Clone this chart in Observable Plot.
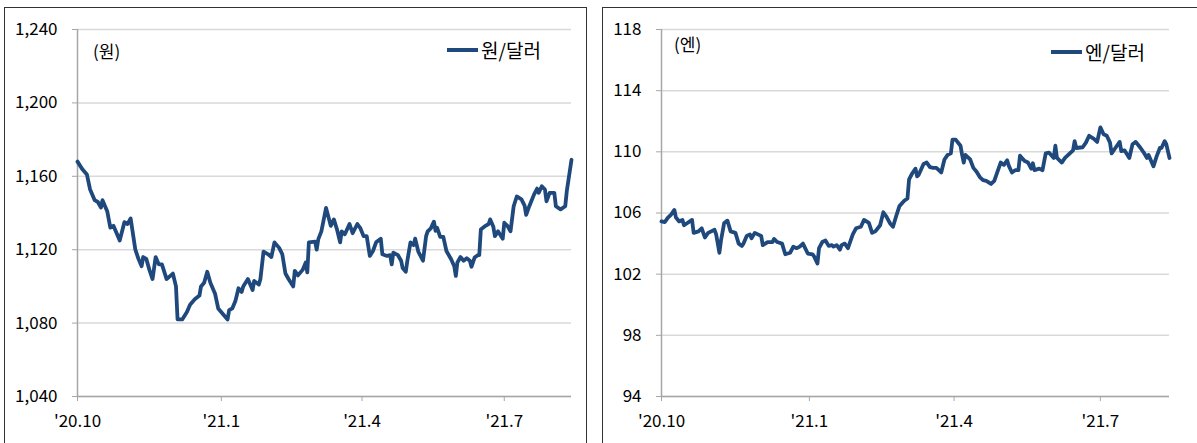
<!DOCTYPE html>
<html>
<head>
<meta charset="utf-8">
<script src="https://cdn.jsdelivr.net/npm/d3@7"></script>
<script src="https://cdn.jsdelivr.net/npm/@observablehq/plot@0.6"></script>
<style>
  html, body { margin: 0; padding: 0; background: #fff; }
  body { width: 1197px; height: 443px; position: relative; overflow: hidden; font-family: "Noto Sans CJK KR", "Noto Sans", sans-serif; color: #000; }
  .panel { position: absolute; border: 1.5px solid #333; box-sizing: border-box; }
  .chart { position: absolute; top: 0; }
  .unit { position: absolute; font-size: 17px; line-height: 20px; color: #000; }
  .legend { position: absolute; font-size: 19px; line-height: 22px; color: #000; display: flex; align-items: center; }
  .legend .swatch { display: inline-block; width: 31px; height: 4px; background: #1f497d; margin-right: 3px; }
</style>
</head>
<body>
<div class="panel" style="left:4px; top:7px; width:583px; height:470px;"></div>
<div class="panel" style="left:602px; top:7px; width:610px; height:470px;"></div>
<div id="left" class="chart" style="left:0px;"></div>
<div id="right" class="chart" style="left:595px;"></div>
<div class="unit" style="left:93px; top:41px;">(원)</div>
<div class="unit" style="left:674px; top:34px;">(엔)</div>
<div class="legend" style="left:447px; top:39px;"><span class="swatch"></span>원/달러</div>
<div class="legend" style="left:1051px; top:41px;"><span class="swatch"></span>엔/달러</div>
<script>
// X-axis ticks (quarters)
const xTickDates = ["2020-10-01", "2021-01-01", "2021-04-01", "2021-07-01"];
const xTickLabels = ["'20.10", "'21.1", "'21.4", "'21.7"];
const xStart = "2020-10-01";
const xEnd = "2021-08-13";

// Left: KRW per USD
const wonTicks = [1040, 1080, 1120, 1160, 1200, 1240];
const wonDates = [
 "2020-10-01","2020-10-04","2020-10-07","2020-10-09","2020-10-12","2020-10-14","2020-10-16","2020-10-17",
 "2020-10-20","2020-10-22","2020-10-24","2020-10-28","2020-10-31","2020-11-02","2020-11-04","2020-11-07",
 "2020-11-09","2020-11-11","2020-11-12","2020-11-14","2020-11-16","2020-11-18","2020-11-20","2020-11-22",
 "2020-11-24","2020-11-27","2020-12-01","2020-12-03","2020-12-04","2020-12-07","2020-12-10","2020-12-12",
 "2020-12-15","2020-12-18","2020-12-19","2020-12-21","2020-12-23","2020-12-25","2020-12-28","2020-12-30",
 "2021-01-02","2021-01-05","2021-01-06","2021-01-08","2021-01-10","2021-01-12","2021-01-14","2021-01-15",
 "2021-01-18","2021-01-21","2021-01-22","2021-01-25","2021-01-26","2021-01-28","2021-01-31","2021-02-02",
 "2021-02-04","2021-02-07","2021-02-09","2021-02-11","2021-02-13","2021-02-16","2021-02-17","2021-02-19",
 "2021-02-22","2021-02-24","2021-02-25","2021-02-26","2021-03-02","2021-03-03","2021-03-04","2021-03-06",
 "2021-03-09","2021-03-12","2021-03-14","2021-03-16","2021-03-18","2021-03-19","2021-03-21","2021-03-24",
 "2021-03-26","2021-03-29","2021-03-31","2021-04-02","2021-04-04","2021-04-06","2021-04-08","2021-04-10",
 "2021-04-13","2021-04-14","2021-04-17","2021-04-19","2021-04-20","2021-04-21","2021-04-24","2021-04-26",
 "2021-04-27","2021-04-29","2021-04-30","2021-05-02","2021-05-04","2021-05-05","2021-05-07","2021-05-10",
 "2021-05-12","2021-05-13","2021-05-15","2021-05-17","2021-05-18","2021-05-19","2021-05-21","2021-05-23",
 "2021-05-25","2021-05-28","2021-05-30","2021-05-31","2021-06-01","2021-06-03","2021-06-05","2021-06-07",
 "2021-06-09","2021-06-10","2021-06-12","2021-06-14","2021-06-15","2021-06-16","2021-06-19","2021-06-21",
 "2021-06-22","2021-06-24","2021-06-25","2021-06-27","2021-06-30","2021-07-01","2021-07-03","2021-07-05",
 "2021-07-07","2021-07-09","2021-07-12","2021-07-14","2021-07-15","2021-07-17","2021-07-20","2021-07-22",
 "2021-07-23","2021-07-25","2021-07-27","2021-07-28","2021-07-30","2021-08-02","2021-08-03","2021-08-06",
 "2021-08-09","2021-08-10","2021-08-13"
];
const wonValues = [
 1168,1164,1161,1153,1147,1146,1143,1147,
 1141,1132,1133,1125,1135,1134,1137,1120,
 1115,1111,1116,1115,1109,1104,1116,1112,
 1112,1104,1107,1100,1082,1082,1086,1090,
 1093,1095,1100,1102,1108,1102,1096,1088,
 1085,1082,1087,1088,1092,1099,1097,1100,
 1104,1098,1103,1101,1104,1119,1117.5,1116,
 1124,1121,1117.5,1107,1104,1100,1108.5,1106,
 1109,1113,1107.6,1124,1124.4,1120,1125.6,1130,
 1142.8,1133,1136.5,1131,1124,1130,1128.4,1134,
 1129,1134,1131.6,1127.4,1127.4,1116.6,1119.3,1124,
 1126,1117.5,1116.6,1117,1112,1118.4,1117,1114,
 1110,1108,1114,1124,1122.5,1126,1119,1114,
 1127.4,1130,1131.6,1135.3,1130.3,1132,1127,1127,
 1119.3,1114.8,1111,1105.7,1113,1116,1114,1115.3,
 1114,1110.7,1115.7,1117,1117,1131,1133,1134,
 1136.5,1132.5,1127.4,1130,1126,1134.7,1133,1130,
 1143.7,1149,1147.4,1144,1139,1143.7,1150,1153.3,
 1151,1154.6,1152.8,1146.4,1151,1151,1143.7,1142,
 1143.7,1152,1169
];

// Right: JPY per USD
const yenTicks = [94, 98, 102, 106, 110, 114, 118];
const yenDates = [
 "2020-10-01","2020-10-03","2020-10-05","2020-10-07","2020-10-09","2020-10-10","2020-10-12","2020-10-14",
 "2020-10-15","2020-10-20","2020-10-21","2020-10-24","2020-10-26","2020-10-28","2020-10-30","2020-11-03",
 "2020-11-04","2020-11-06","2020-11-07","2020-11-09","2020-11-11","2020-11-13","2020-11-16","2020-11-18",
 "2020-11-20","2020-11-21","2020-11-23","2020-11-25","2020-11-26","2020-11-28","2020-11-30","2020-12-02",
 "2020-12-03","2020-12-06","2020-12-09","2020-12-10","2020-12-12","2020-12-15","2020-12-17","2020-12-20",
 "2020-12-22","2020-12-24","2020-12-26","2020-12-28","2020-12-31","2021-01-03","2021-01-04","2021-01-06",
 "2021-01-07","2021-01-09","2021-01-11","2021-01-13","2021-01-15","2021-01-16","2021-01-18","2021-01-20",
 "2021-01-21","2021-01-23","2021-01-25","2021-01-28","2021-01-30","2021-02-02","2021-02-04","2021-02-07",
 "2021-02-09","2021-02-11","2021-02-14","2021-02-16","2021-02-18","2021-02-20","2021-02-22","2021-02-24",
 "2021-02-26","2021-03-01","2021-03-03","2021-03-04","2021-03-06","2021-03-08","2021-03-09","2021-03-10",
 "2021-03-13","2021-03-15","2021-03-17","2021-03-19","2021-03-21","2021-03-24","2021-03-26","2021-03-28",
 "2021-03-30","2021-03-31","2021-04-02","2021-04-05","2021-04-06","2021-04-07","2021-04-08","2021-04-11",
 "2021-04-13","2021-04-15","2021-04-17","2021-04-19","2021-04-21","2021-04-24","2021-04-26","2021-04-28",
 "2021-04-30","2021-05-02","2021-05-04","2021-05-05","2021-05-07","2021-05-09","2021-05-11","2021-05-12",
 "2021-05-14","2021-05-15","2021-05-17","2021-05-19","2021-05-20","2021-05-21","2021-05-24","2021-05-26",
 "2021-05-28","2021-05-30","2021-06-02","2021-06-03","2021-06-04","2021-06-07","2021-06-09","2021-06-11",
 "2021-06-14","2021-06-15","2021-06-16","2021-06-20","2021-06-22","2021-06-24","2021-06-27","2021-06-29",
 "2021-07-01","2021-07-03","2021-07-05","2021-07-07","2021-07-08","2021-07-10","2021-07-13","2021-07-14",
 "2021-07-16","2021-07-19","2021-07-21","2021-07-23","2021-07-26","2021-07-28","2021-07-30","2021-07-31",
 "2021-08-03","2021-08-05","2021-08-07","2021-08-08","2021-08-10","2021-08-11","2021-08-13"
];
const yenValues = [
 105.45,105.4,105.7,105.9,106.2,105.7,105.45,105.55,
 105.2,105.55,104.7,104.8,105.0,104.4,104.7,104.9,
 104.6,103.4,104.2,105.35,105.5,104.8,104.7,104.0,
 103.85,104.0,104.5,104.6,104.35,104.7,104.6,104.5,
 103.9,104.1,104.1,104.3,104.1,104.0,103.3,103.4,
 103.8,103.7,103.8,104.0,103.35,103.3,103.15,102.7,
 103.7,104.1,104.2,103.85,103.9,103.8,103.9,103.6,
 103.9,104.0,103.7,104.6,105.0,105.1,105.55,105.35,
 104.7,104.8,105.2,106.05,105.75,105.35,105.1,105.8,
 106.45,106.8,106.95,108.2,108.6,108.9,108.4,108.5,
 109.2,109.3,109.0,108.95,108.95,108.65,109.5,109.8,
 109.9,110.8,110.8,110.4,109.8,109.3,109.8,109.5,
 108.95,108.7,108.35,108.15,108.1,107.9,108.1,108.7,
 109.3,109.15,109.45,109.1,108.65,108.8,108.8,109.75,
 109.5,109.4,109.3,108.9,109.25,108.8,108.9,108.8,
 109.9,109.95,109.6,110.4,109.6,109.3,109.6,109.8,
 110.1,110.7,110.25,110.3,110.6,111.05,110.85,110.65,
 111.6,111.15,111.05,110.6,109.9,110.2,110.65,110.05,
 110.1,109.6,110.5,110.65,110.25,109.95,109.6,109.8,
 109.05,109.7,110.25,110.25,110.7,110.5,109.6
];

const FONT = "'Noto Sans CJK KR', 'Noto Sans', sans-serif";
const LINE = "#1f497d";
const GRID = "#d9d9d9";
const AXIS = "#a6a6a6";

const tickDateObjs = xTickDates.map(d => new Date(d));
const xLabel = d => xTickLabels[tickDateObjs.findIndex(t => +t === +d)];

function makeChart({dates, values, ticks, yDomain, yFormat, width, marginLeft, marginRight}) {
  const data = dates.map((d, i) => ({date: new Date(d), value: values[i]}));
  return Plot.plot({
    width, height: 443,
    marginLeft, marginRight, marginTop: 29, marginBottom: 47,
    style: {fontFamily: FONT, fontSize: "17px", color: "#000", background: "transparent", overflow: "visible"},
    x: {type: "utc", domain: [new Date(xStart), new Date(xEnd)]},
    y: {domain: yDomain},
    marks: [
      Plot.gridY(ticks, {stroke: GRID, strokeOpacity: 1, strokeWidth: 1.5}),
      Plot.ruleY([yDomain[0]], {stroke: AXIS, strokeWidth: 1.5}),
      Plot.ruleX([new Date(xStart)], {stroke: AXIS, strokeWidth: 1.5}),
      Plot.axisY({ticks, tickSize: 5, tickPadding: 15, tickFormat: yFormat, stroke: AXIS, fill: "#000", fontSize: 17, label: null}),
      Plot.axisX({ticks: tickDateObjs, tickSize: 5, tickPadding: 13, tickFormat: xLabel, stroke: AXIS, fill: "#000", fontSize: 17, label: null}),
      Plot.lineY(data, {x: "date", y: "value", stroke: LINE, strokeWidth: 3.8, strokeLinejoin: "round", strokeLinecap: "round"})
    ]
  });
}

document.getElementById("left").appendChild(makeChart({
  dates: wonDates, values: wonValues, ticks: wonTicks, yDomain: [1040, 1240],
  yFormat: d3.format(","), width: 590, marginLeft: 77, marginRight: 19
}));
document.getElementById("right").appendChild(makeChart({
  dates: yenDates, values: yenValues, ticks: yenTicks, yDomain: [94, 118],
  yFormat: d => String(d), width: 602, marginLeft: 66, marginRight: 28
}));
</script>
</body>
</html>
